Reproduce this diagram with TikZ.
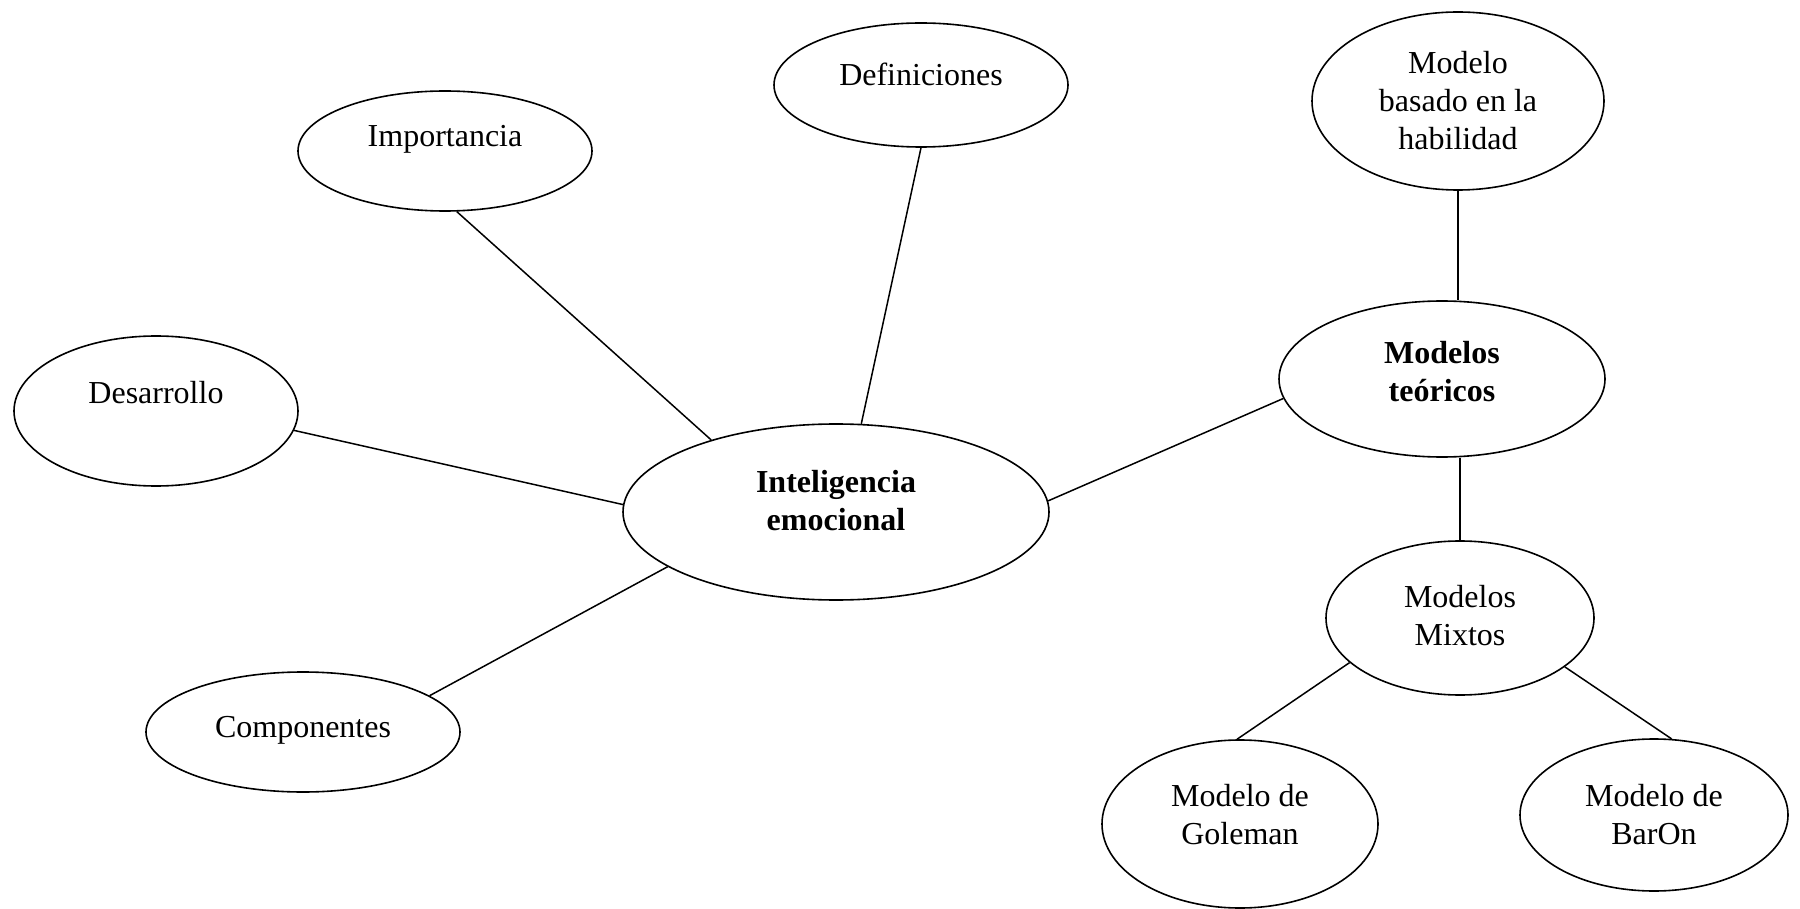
\documentclass[tikz,border=0pt]{standalone}
\usepackage{fontspec}
\setmainfont{Liberation Serif}
\usetikzlibrary{shapes.geometric}
\begin{document}
\begin{tikzpicture}[x=0.5pt,y=-0.5pt,
  ell/.style={draw, line width=0.8pt, ellipse, inner sep=0pt},
  txt/.style={align=center, font=\fontsize{16}{19}\selectfont, inner sep=0pt},
  con/.style={line width=0.75pt}]
\useasboundingbox (0,0) rectangle (1800,909);
% ellipses
\node[ell, minimum width=147pt, minimum height=60pt] (imp) at (445,151) {};
\node[ell, minimum width=147pt, minimum height=62pt] (def) at (921,85) {};
\node[ell, minimum width=146pt, minimum height=89pt] (bas) at (1458,101) {};
\node[ell, minimum width=142pt, minimum height=75pt] (des) at (156,411) {};
\node[ell, minimum width=163pt, minimum height=78pt] (mt) at (1442,379) {};
\node[ell, minimum width=213pt, minimum height=88pt] (ie) at (836,512) {};
\node[ell, minimum width=134pt, minimum height=77pt] (mix) at (1460,618) {};
\node[ell, minimum width=157pt, minimum height=60pt] (com) at (303,732) {};
\node[ell, minimum width=138pt, minimum height=84pt] (gol) at (1240,824) {};
\node[ell, minimum width=134pt, minimum height=76pt] (bar) at (1654,815) {};
% texts
\node[txt] (timp) at (445,139) {Importancia};
\node[txt] (tdef) at (921,74) {Definiciones};
\node[txt] (tbas) at (1458,101) {Modelo\\basado en la\\habilidad};
\node[txt] (tdes) at (156,393) {Desarrollo};
\node[txt] (tmt) at (1442,372) {\bfseries Modelos\\\bfseries teóricos};
\node[txt] (tie) at (836,501) {\bfseries Inteligencia\\\bfseries emocional};
\node[txt] (tmix) at (1460,616) {Modelos\\Mixtos};
\node[txt] (tcom) at (303,730) {Componentes};
\node[txt] (tgol) at (1240,815) {Modelo de\\Goleman};
\node[txt] (tbar) at (1654,815) {Modelo de\\BarOn};
% connectors
\draw[con] (imp.-79) -- (ie.150);
\draw[con] (def.-90) -- (ie.74);
\draw[con] (des.-8) -- (ie.178);
\draw[con] (com.16) -- (ie.-162);
\draw[con] (ie.3) -- (mt.187);
\draw[con] (bas.south) -- (bas.south |- mt.north);
\draw[con] (mix.north) -- (mix.north |- mt.south);
\draw[con] (mix.-158) -- (gol.92);
\draw[con] (mix.-25) -- (bar.77);
\end{tikzpicture}
\end{document}
